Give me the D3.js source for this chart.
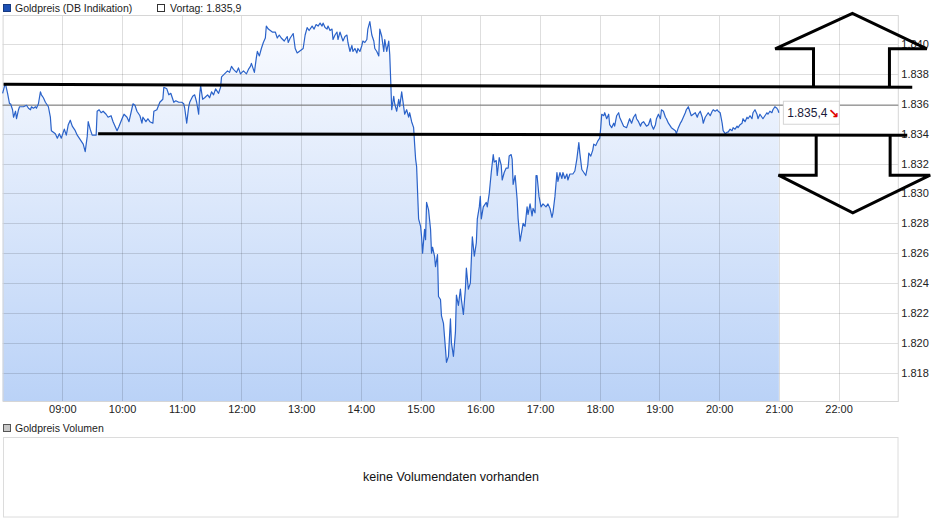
<!DOCTYPE html>
<html><head><meta charset="utf-8">
<script src="https://cdn.jsdelivr.net/npm/d3@7"></script>
<style>
body{margin:0;background:#fff;}
svg{display:block;font-family:"Liberation Sans",Arial,Helvetica,sans-serif;}
</style>
</head><body>
<svg id="chart" width="940" height="526"></svg>
<script>
// ---------------- DATA ----------------
const seriesName = "Goldpreis (DB Indikation)";
const volumeName = "Goldpreis Volumen";
const noVolumeText = "keine Volumendaten vorhanden";
const previousClose = 1835.9;

// minutes after 08:00
const minutesSince0800 = [0,2,3,5,7,8,10,11,13,14,16,17,21,24,26,28,29,31,33,34,36,38,39,41,43,46,48,49,53,55,57,59,62,64,66,68,70,73,75,77,79,81,83,85,86,88,90,91,94,95,97,99,101,104,106,109,111,115,117,120,122,125,127,130,131,133,135,138,140,141,144,146,148,151,152,155,158,161,162,165,167,169,172,174,177,180,182,183,185,187,188,191,193,195,197,198,199,201,203,206,208,210,212,214,217,219,220,223,226,228,230,232,235,237,239,242,245,247,249,250,253,255,256,258,260,262,264,265,267,269,271,274,276,278,280,283,286,287,289,291,292,294,296,298,302,304,306,308,311,313,315,317,319,321,322,324,326,327,329,331,332,334,336,337,339,341,342,344,346,347,349,351,352,354,356,357,359,361,362,364,366,367,369,371,373,374,376,378,379,381,383,384,386,388,389,390,391,393,394,396,398,399,401,403,404,406,408,409,411,413,414,415,416,418,420,421,422,424,425,426,428,430,431,432,434,435,437,438,440,441,443,445,446,448,450,451,453,455,456,458,460,461,463,465,466,468,470,471,472,474,476,477,479,480,481,483,486,487,489,491,493,494,496,497,499,501,502,504,506,508,509,511,512,513,515,517,518,520,522,523,525,527,528,530,532,533,535,536,537,539,541,543,546,548,550,552,553,555,557,558,560,562,563,565,567,568,570,573,575,577,579,580,582,584,586,588,589,591,593,594,596,598,600,601,602,604,605,607,609,610,612,614,615,617,619,620,622,624,627,629,630,632,634,636,637,639,641,642,644,646,647,649,651,652,654,656,657,659,661,662,664,666,667,669,671,672,674,676,677,679,681,682,684,686,687,689,691,692,694,696,698,699,701,703,704,706,708,709,711,713,714,716,718,719,721,723,724,726,728,729,731,733,734,736,738,739,741,743,744,746,748,749,751,753,754,756,758,759,761,763,764,766,768,769,771,773,774,776,778,779,780];

const prices = [1836.7,1837.2,1837.3,1836.7,1836.0,1836.0,1835.6,1835.1,1835.5,1835.0,1835.6,1835.8,1835.8,1835.9,1835.7,1835.6,1835.8,1835.7,1835.8,1835.7,1836.0,1836.8,1836.6,1836.4,1836.1,1835.8,1835.1,1834.2,1834.0,1833.7,1834.0,1833.7,1834.3,1833.9,1834.6,1834.9,1834.5,1834.2,1833.9,1833.7,1833.5,1833.3,1832.8,1833.8,1834.8,1834.3,1833.9,1833.9,1833.9,1835.5,1835.6,1835.4,1835.5,1835.3,1835.1,1835.2,1834.8,1834.2,1834.5,1835.0,1835.3,1835.1,1834.8,1835.7,1836.0,1835.9,1835.5,1835.2,1834.7,1835.1,1834.8,1835.0,1834.8,1834.7,1835.5,1835.6,1836.1,1836.3,1837.1,1837.0,1836.6,1836.7,1836.1,1836.2,1836.1,1836.1,1836.0,1835.7,1834.7,1835.8,1836.1,1836.5,1836.6,1836.1,1835.3,1836.6,1837.2,1836.3,1836.4,1836.6,1836.4,1836.8,1836.6,1837.0,1836.7,1837.1,1837.8,1838.0,1838.2,1838.1,1838.5,1838.3,1838.1,1838.4,1838.0,1838.2,1838.0,1838.3,1838.5,1838.7,1838.1,1839.1,1839.5,1839.2,1839.7,1840.1,1840.4,1841.2,1841.0,1840.9,1840.8,1840.8,1840.4,1840.6,1840.4,1840.2,1840.5,1840.1,1840.4,1840.6,1840.7,1839.7,1839.4,1839.5,1839.7,1840.6,1841.1,1840.9,1841.2,1841.0,1841.3,1841.2,1841.4,1841.2,1841.4,1841.1,1841.0,1841.2,1840.9,1841.0,1840.3,1840.6,1840.8,1840.3,1840.8,1840.4,1840.2,1840.5,1840.6,1840.1,1839.5,1839.9,1839.5,1839.7,1839.4,1839.7,1839.5,1839.9,1840.2,1840.1,1840.3,1841.0,1841.5,1840.6,1840.2,1839.7,1839.5,1839.2,1841.0,1840.5,1839.5,1840.3,1839.5,1840.2,1839.3,1837.5,1835.6,1836.5,1836.0,1835.5,1836.3,1835.8,1836.8,1835.8,1835.3,1835.6,1835.1,1835.4,1834.8,1834.4,1833.3,1832.3,1831.8,1828.3,1827.8,1827.1,1826.0,1827.6,1826.9,1829.4,1828.9,1827.6,1826.0,1826.4,1825.8,1825.1,1825.9,1823.1,1822.9,1821.8,1821.3,1819.6,1818.7,1819.1,1821.6,1820.0,1819.1,1820.7,1823.2,1822.5,1823.6,1822.9,1821.9,1823.6,1825.0,1823.6,1824.0,1825.6,1827.1,1825.8,1826.7,1828.3,1829.1,1829.8,1828.3,1829.1,1829.4,1829.1,1830.0,1831.4,1832.6,1832.1,1832.2,1831.2,1832.4,1831.9,1830.9,1831.4,1831.7,1831.7,1832.5,1832.6,1832.3,1830.6,1831.2,1829.6,1828.3,1826.8,1827.6,1828.0,1827.8,1829.1,1828.6,1829.3,1828.5,1829.0,1828.7,1831.2,1831.2,1829.8,1829.1,1829.3,1829.1,1829.3,1829.0,1828.4,1828.7,1829.8,1831.4,1830.8,1831.4,1831.0,1831.4,1831.0,1831.3,1830.9,1831.3,1831.3,1831.5,1832.3,1833.4,1832.7,1831.6,1831.4,1831.2,1831.9,1832.7,1832.5,1832.9,1833.3,1833.2,1833.5,1833.7,1834.4,1835.3,1835.2,1835.4,1835.0,1835.3,1834.6,1834.4,1834.7,1834.5,1835.2,1835.4,1835.1,1834.8,1834.5,1834.4,1834.8,1835.0,1834.7,1835.1,1835.3,1835.0,1834.8,1834.5,1834.7,1834.8,1834.6,1834.5,1834.6,1835.0,1834.6,1834.3,1834.6,1835.0,1835.3,1835.0,1835.6,1835.5,1835.1,1835.0,1834.7,1834.5,1834.4,1834.3,1834.2,1834.0,1834.4,1834.7,1834.8,1835.1,1835.4,1835.6,1835.8,1835.4,1835.2,1835.3,1835.4,1835.1,1835.3,1835.5,1835.1,1834.7,1835.1,1835.3,1835.4,1835.2,1835.5,1835.6,1835.5,1835.6,1835.5,1835.4,1834.7,1834.2,1834.0,1834.1,1834.1,1834.3,1834.2,1834.4,1834.3,1834.5,1834.4,1834.6,1834.7,1835.0,1834.8,1835.1,1835.0,1835.2,1835.0,1835.4,1835.6,1835.3,1835.0,1835.3,1835.1,1835.0,1835.2,1835.4,1835.3,1835.5,1835.4,1835.6,1835.8,1835.7,1835.6,1835.4];

const hourTicks = ["09:00","10:00","11:00","12:00","13:00","14:00","15:00","16:00","17:00","18:00","19:00","20:00","21:00","22:00"];
const priceTicks = [1818,1820,1822,1824,1826,1828,1830,1832,1834,1836,1838,1840];

// hand-drawn annotations, in [minutes after 08:00, price]
const resistanceLine = [[1,1837.3],[914,1837.1]];
const supportLine = [[96,1834.0],[909,1833.9]];
const upArrow = [[814.8,1837.13],[814.8,1839.68],[776.3,1839.68],[853.9,1842.04],[928.7,1839.68],[891.1,1839.68],[891.1,1837.13]];
const downArrow = [[817.5,1833.87],[817.5,1831.22],[779.6,1831.22],[854.3,1828.70],[932,1831.22],[891.8,1831.22],[891.8,1833.87]];

// ---------------- CHART ----------------
const de = d3.formatLocale({decimal:",", thousands:".", grouping:[3], currency:["","\u00a0€"]});
const fmtAxis = de.format(",.0f");
const fmtPrice = de.format(",.1f");

const svg = d3.select("#chart");
const base = new Date(2024,0,1,8,0);
const toDate = m => new Date(base.getTime() + m*60000);
const parseHM = s => { const [h,mm] = s.split(":").map(Number); return new Date(2024,0,1,h,mm); };

const plot = {left:2.6, right:898.3, top:15, bottom:401};
const x = d3.scaleTime().domain([toDate(0), toDate(900)]).range([plot.left, plot.right]);
const y = d3.scaleLinear().domain([1816.11, 1841.94]).range([plot.bottom, plot.top]);

const data = minutesSince0800.map((m,i) => ({t:toDate(m), v:prices[i]}));

// gradient
const defs = svg.append("defs");
const grad = defs.append("linearGradient").attr("id","fillGrad")
  .attr("gradientUnits","userSpaceOnUse").attr("x1",0).attr("x2",0)
  .attr("y1",plot.top).attr("y2",plot.bottom);
grad.append("stop").attr("offset","0%").attr("stop-color","#fbfcff");
grad.append("stop").attr("offset","100%").attr("stop-color","#bad2f7");

// area
svg.append("path").datum(data)
  .attr("d", d3.area().x(d=>x(d.t)).y0(plot.bottom).y1(d=>y(d.v)))
  .attr("fill","url(#fillGrad)");

// grid
const grid = svg.append("g").attr("stroke","rgba(0,0,0,0.13)").attr("stroke-width",1);
grid.selectAll(".hg").data(priceTicks).join("line")
  .attr("x1",plot.left).attr("x2",plot.right)
  .attr("y1",d=>Math.round(y(d))+0.5).attr("y2",d=>Math.round(y(d))+0.5);
grid.selectAll(".vg").data(hourTicks).join("line")
  .attr("y1",plot.top).attr("y2",plot.bottom)
  .attr("x1",d=>Math.round(x(parseHM(d)))+0.5).attr("x2",d=>Math.round(x(parseHM(d)))+0.5);

// frame
svg.append("rect").attr("x",plot.left+0.5).attr("y",plot.top+0.5)
  .attr("width",plot.right-plot.left-0.5).attr("height",plot.bottom-plot.top)
  .attr("fill","none").attr("stroke","#d6d6d6");

// previous close line
svg.append("line").attr("x1",plot.left).attr("x2",plot.right)
  .attr("y1",y(previousClose)).attr("y2",y(previousClose))
  .attr("stroke","#808080").attr("stroke-width",1);

// price line
svg.append("path").datum(data)
  .attr("d", d3.line().x(d=>x(d.t)).y(d=>y(d.v)))
  .attr("fill","none").attr("stroke","#2a62c9").attr("stroke-width",1.2)
  .attr("stroke-linejoin","round");

// axes
const xAxis = d3.axisBottom(x).tickValues(hourTicks.map(parseHM))
  .tickFormat(d3.timeFormat("%H:%M")).tickSize(0).tickPadding(4);
const gx = svg.append("g").attr("transform",`translate(0,${plot.bottom})`).call(xAxis);
gx.select(".domain").remove();
gx.selectAll("text").attr("font-size",11).attr("fill","#222").attr("font-family",null);

const yAxis = d3.axisRight(y).tickValues(priceTicks).tickFormat(fmtAxis).tickSize(0).tickPadding(3);
const gy = svg.append("g").attr("transform",`translate(${plot.right},0)`).call(yAxis);
gy.select(".domain").remove();
gy.selectAll("text").attr("font-size",11).attr("fill","#222").attr("font-family",null);

// last price label
const last = data[data.length-1];
const lx = x(last.t)+4.5, ly = y(last.v);
svg.append("rect").attr("x",lx).attr("y",ly-11.5).attr("width",56).attr("height",23)
  .attr("fill","#fff").attr("stroke","#d4d4d4");
svg.append("text").attr("x",lx+4).attr("y",ly+4).attr("font-size",12).attr("fill","#1a1a3a")
  .text(fmtPrice(last.v));
svg.append("text").attr("x",lx+45).attr("y",ly+5).attr("font-size",13).attr("fill","#e00000")
  .attr("font-family","DejaVu Sans").attr("font-weight","bold").text("\u2198");

// annotations
const aLine = d3.line().x(d=>x(toDate(d[0]))).y(d=>y(d[1]));
[resistanceLine, supportLine, upArrow, downArrow].forEach(pts => {
  svg.append("path").attr("d", aLine(pts)).attr("fill","none")
    .attr("stroke","#000").attr("stroke-width",3).attr("stroke-linejoin","miter");
});

// legend
svg.append("rect").attr("x",3.5).attr("y",4.5).attr("width",7).attr("height",7)
  .attr("fill","#1d50b4").attr("stroke","#173a80");
svg.append("text").attr("x",15).attr("y",12).attr("font-size",10.5).attr("fill","#222").text(seriesName);
svg.append("rect").attr("x",157.5).attr("y",4.5).attr("width",7).attr("height",7)
  .attr("fill","#fff").attr("stroke","#333");
svg.append("text").attr("x",170).attr("y",12).attr("font-size",10.5).attr("fill","#222")
  .text("Vortag: " + fmtPrice(previousClose));

// volume panel
svg.append("rect").attr("x",3.5).attr("y",424.5).attr("width",7).attr("height",7)
  .attr("fill","#c8c8c8").attr("stroke","#555");
svg.append("text").attr("x",15).attr("y",432).attr("font-size",10.5).attr("fill","#222").text(volumeName);
svg.append("rect").attr("x",3.5).attr("y",437.5).attr("width",894.5).attr("height",79.5)
  .attr("fill","#fff").attr("stroke","#dcdcdc");
svg.append("text").attr("x",451).attr("y",481).attr("text-anchor","middle")
  .attr("font-size",12.5).attr("fill","#111").text(noVolumeText);
</script>
</body></html>
